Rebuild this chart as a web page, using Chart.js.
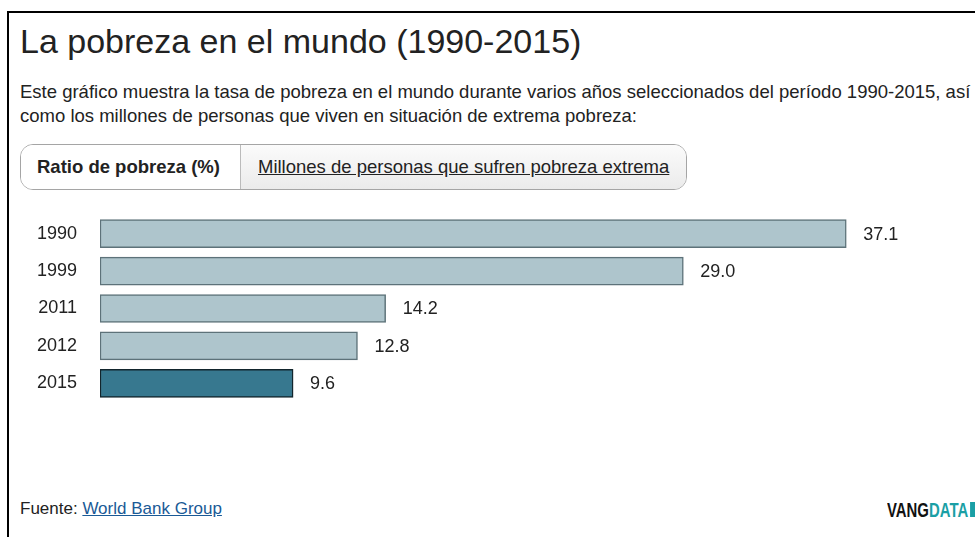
<!DOCTYPE html>
<html>
<head>
<meta charset="utf-8">
<script src="https://cdn.jsdelivr.net/npm/chart.js@4/dist/chart.umd.min.js"></script>
<style>
  html, body { margin: 0; padding: 0; background: #fff; overflow: hidden; }
  body { width: 975px; height: 537px; position: relative; font-family: "Liberation Sans", Arial, sans-serif; color: #222; }
  .frame { position: absolute; left: 7px; top: 11px; width: 1100px; height: 600px; border: 2px solid #000; }
  h1 { position: absolute; left: 20px; top: 22px; margin: 0; font-weight: normal; font-size: 34px; white-space: nowrap; }
  .desc { position: absolute; left: 20px; top: 80px; width: 975px; margin: 0; font-size: 18.5px; line-height: 24px; }
  .tabs { position: absolute; left: 20px; top: 144px; width: 665px; height: 44px; border: 1px solid #a5a5a5; border-radius: 13px; overflow: hidden; display: flex; }
  .tab { font-size: 18.5px; line-height: 44px; white-space: nowrap; }
  .tab.on { background: #fff; font-weight: bold; padding: 0 20px 0 16px; border-right: 1px solid #bbb; }
  .tab.off { flex: 1; padding: 0 17px; background: linear-gradient(#fbfbfb, #ebebeb); text-decoration: underline; }
  .chart-box { position: absolute; left: 20px; top: 215px; width: 955px; height: 187px; }
  .source { position: absolute; left: 20px; top: 499px; font-size: 17px; }
  .source a { color: #1a5a96; }
  .logo { position: absolute; left: 887px; top: 498px; font-weight: bold; font-size: 21px; white-space: nowrap; transform: scaleX(0.71); transform-origin: 0 0; }
  .logo .a { color: #111; }
  .logo .b { color: #1a9fa5; }
  .logo .c { display: inline-block; width: 12px; height: 15px; margin-left: 3px; background: #1a9fa5; }
</style>
</head>
<body>
<div class="frame"></div>
<h1>La pobreza en el mundo (1990-2015)</h1>
<p class="desc">Este gráfico muestra la tasa de pobreza en el mundo durante varios años seleccionados del período 1990-2015, así como los millones de personas que viven en situación de extrema pobreza:</p>
<div class="tabs">
  <div class="tab on">Ratio de pobreza (%)</div>
  <div class="tab off">Millones de personas que sufren pobreza extrema</div>
</div>
<div class="chart-box"><canvas id="chart"></canvas></div>
<div class="source">Fuente: <a href="#">World Bank Group</a></div>
<div class="logo"><span class="a">VANG</span><span class="b">DATA</span><span class="c"></span></div>

<script>
// data
const years = [ '1990', '1999', '2011', '2012', '2015' ];
const poverty_ratio = [ 37.1, 29.0, 14.2, 12.8, 9.6 ];
const value_labels = [ '37.1', '29.0', '14.2', '12.8', '9.6' ];

const LIGHT_BAR = [ '#aec5cc', '#5d7279' ];
const DARK_BAR = [ '#37788f', '#12252c' ];
const FONT_FAMILY = '"Liberation Sans", Arial, sans-serif';

function bar_fill( idx ) {
  return idx == years.length - 1 ? DARK_BAR[ 0 ] : LIGHT_BAR[ 0 ];
}

function bar_border( idx ) {
  return idx == years.length - 1 ? DARK_BAR[ 1 ] : LIGHT_BAR[ 1 ];
}

// draws the numbers to the right of each bar
const value_label_plugin = {
  id: 'value_labels',
  afterDatasetsDraw( chart ) {
    const ctx = chart.ctx;
    const meta = chart.getDatasetMeta( 0 );
    ctx.save();
    ctx.font = '18px ' + FONT_FAMILY;
    ctx.fillStyle = '#222';
    ctx.textBaseline = 'middle';
    meta.data.forEach( ( bar, i ) => {
      ctx.fillText( value_labels[ i ], bar.x + 17, bar.y + 1 );
    } );
    ctx.restore();
  }
};

function create_chart() {
  const ctx = document.getElementById( 'chart' ).getContext( '2d' );
  return new Chart( ctx, {
    type: 'bar',
    data: {
      labels: years,
      datasets: [ {
        data: poverty_ratio,
        backgroundColor: years.map( ( y, i ) => bar_fill( i ) ),
        borderColor: years.map( ( y, i ) => bar_border( i ) ),
        borderWidth: 1.5,
        borderSkipped: false,
        barThickness: 28
      } ]
    },
    options: {
      indexAxis: 'y',
      responsive: true,
      maintainAspectRatio: false,
      animation: false,
      layout: { padding: 0 },
      plugins: {
        legend: { display: false },
        tooltip: { enabled: false }
      },
      scales: {
        x: { display: false, min: 0, max: 43.5 },
        y: {
          grid: { display: false, drawTicks: false },
          border: { display: false },
          ticks: {
            padding: 23,
            color: '#222',
            font: { family: FONT_FAMILY, size: 18 }
          },
          afterFit( scale ) {
            // keep the axis from eating vertical space
            scale.width = 80;
            scale.paddingTop = 0;
            scale.paddingBottom = 0;
          }
        }
      }
    },
    plugins: [ value_label_plugin ]
  } );
}

document.addEventListener( 'DOMContentLoaded', function () {
  create_chart();
} );
</script>
</body>
</html>
